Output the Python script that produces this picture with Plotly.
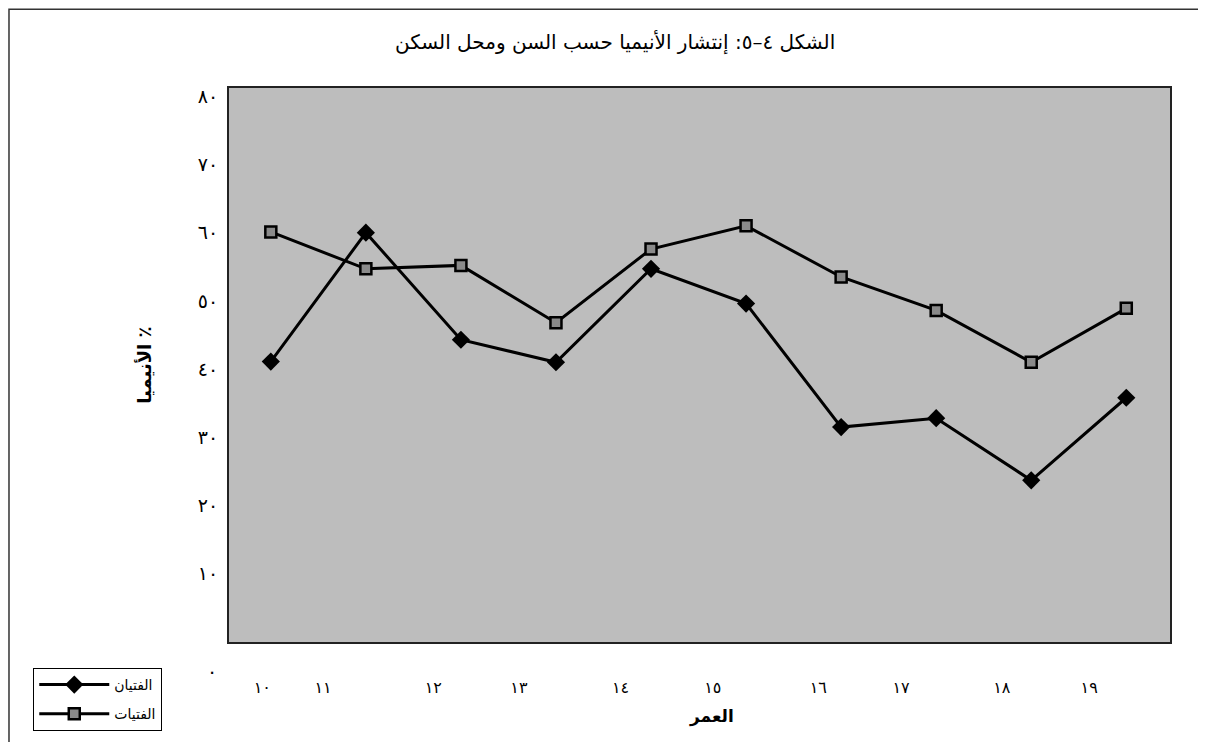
import plotly.graph_objects as go

# ── Données ─────────────────────────────────────────────────
AGES = [10, 11, 12, 13, 14, 15, 16, 17, 18, 19]
AGE_LABELS = ["١٠", "١١", "١٢", "١٣", "١٤", "١٥", "١٦", "١٧", "١٨", "١٩"]
FATAYAN = [41.1, 60.0, 44.3, 41.0, 54.7, 49.6, 31.5, 32.8, 23.7, 35.8]   # الفتيان
FATAYAT = [60.1, 54.7, 55.2, 46.8, 57.6, 61.0, 53.5, 48.6, 41.0, 48.9]   # الفتيات
Y_TICKS = [10, 20, 30, 40, 50, 60, 70, 80]
Y_LABELS = ["١٠", "٢٠", "٣٠", "٤٠", "٥٠", "٦٠", "٧٠", "٨٠"]

# étiquettes de l'axe x décalées comme dans l'original scanné
TICK_X = [9.91, 10.55, 11.71, 12.61, 13.68, 14.65, 15.76, 16.63, 17.69, 18.61]

FONT = "DejaVu Sans"
GRIS_FOND = "#bdbdbd"

fig = go.Figure()
fig.add_scatter(
    x=AGES, y=FATAYAN, name="الفتيان", legendgroup="a",
    mode="lines+markers",
    line=dict(color="black", width=3),
    marker=dict(symbol="diamond", size=14, color="black"),
)
fig.add_scatter(
    x=AGES, y=FATAYAT, name="الفتيات", legendgroup="b",
    mode="lines+markers",
    line=dict(color="black", width=3),
    marker=dict(symbol="square", size=11, color="#8a8a8a",
                line=dict(color="black", width=2.5)),
)

# la page html ajoute 8 px de marge : on compense ici
fig.update_layout(
    width=1198, height=734,
    margin=dict(l=221, r=36, t=80, b=99),
    paper_bgcolor="white",
    plot_bgcolor=GRIS_FOND,
    font=dict(family=FONT, color="black", size=14),
    showlegend=True,
    legend=dict(
        x=-0.208, y=-0.045, xanchor="left", yanchor="top",
        bgcolor="white", bordercolor="black", borderwidth=1,
        font=dict(size=14), itemwidth=70,
        traceorder="grouped", tracegroupgap=8,
    ),
    xaxis=dict(
        range=[9.56, 19.46], showgrid=False, zeroline=False,
        tickvals=TICK_X, ticktext=AGE_LABELS, ticks="",
        tickfont=dict(size=16), showline=True, mirror=True,
        linecolor="#222", linewidth=2, ticklabelstandoff=30,
    ),
    yaxis=dict(
        range=[0, 81.2], showgrid=False, zeroline=False,
        tickvals=Y_TICKS, ticktext=Y_LABELS, ticks="",
        tickfont=dict(size=19), showline=True, mirror=True,
        linecolor="#222", linewidth=2, ticklabelstandoff=5,
    ),
)

# cadre de la figure (haut et gauche visibles)
fig.add_shape(type="rect", xref="paper", yref="paper",
              x0=-0.2338, x1=1.1, y0=-0.3, y1=1.1423,
              line=dict(color="#333", width=1.5))

# titre, axes, zéro déplacé
fig.add_annotation(text="الشكل ٤–٥: إنتشار الأنيميا حسب السن ومحل السكن",
                   xref="paper", yref="paper", x=0.41, y=1.083,
                   yanchor="middle", showarrow=False, font=dict(size=20))
fig.add_annotation(text="العمر", xref="paper", yref="paper",
                   x=0.513, y=-0.135, yanchor="middle", showarrow=False,
                   font=dict(size=17, weight="bold"))
fig.add_annotation(text="\u200f٪ الأنيميا", xref="paper", yref="paper",
                   x=-0.104, y=0.5, textangle=-90, showarrow=False,
                   font=dict(size=18, weight="bold"))
fig.add_annotation(text="٠", xref="paper", yref="paper",
                   x=-0.025, y=-0.052, yanchor="middle", showarrow=False,
                   font=dict(size=19))

fig.write_html("out.html")
